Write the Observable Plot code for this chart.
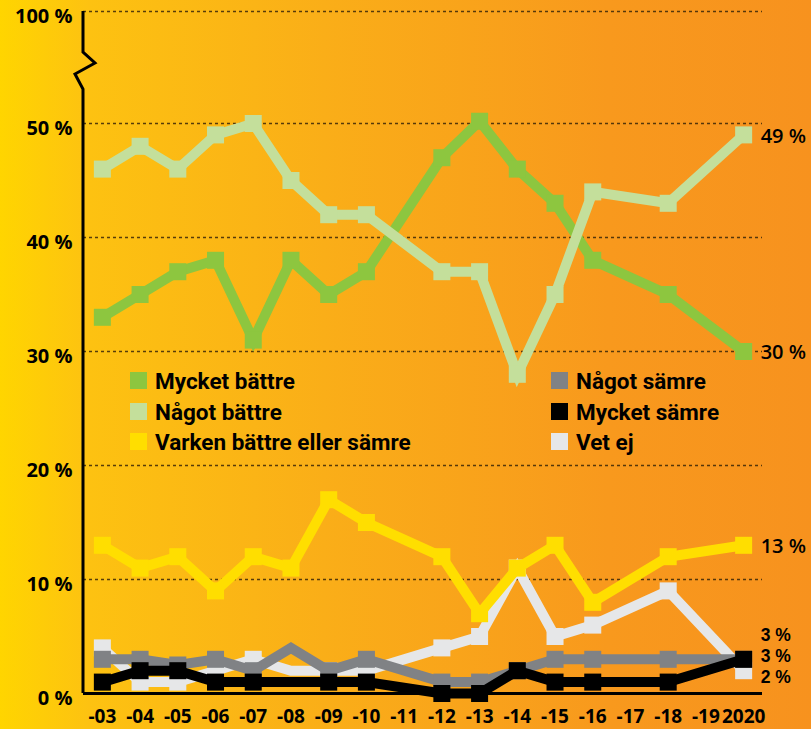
<!DOCTYPE html>
<html>
<head>
<meta charset="utf-8">
<script src="https://cdn.jsdelivr.net/npm/d3@7"></script>
<script src="https://cdn.jsdelivr.net/npm/@observablehq/plot@0.6"></script>
<style>
html, body { margin: 0; padding: 0; }
body {
  width: 811px; height: 729px; overflow: hidden;
  background: linear-gradient(to right, #ffd500 0%, #fdc211 11%, #faae18 40%, #f8991d 75%, #f7921e 100%);
}
#chart { position: relative; width: 811px; height: 729px; }
#chart svg { display: block; }
.legend { position: absolute; left: 0; top: 0; font-family: Roboto, "Open Sans", sans-serif; font-weight: 700; font-size: 22.5px; color: #000; }
.legend .item { position: absolute; white-space: nowrap; height: 30px; line-height: 30px; }
.legend .sw { position: absolute; left: 0; top: 6px; width: 17px; height: 17px; }
.legend .lb { position: absolute; left: 25px; top: 0; }
</style>
</head>
<body>
<div id="chart"></div>
<script>
// ---- data ----
const years = [2003, 2004, 2005, 2006, 2007, 2008, 2009, 2010, 2012, 2013, 2014, 2015, 2016, 2018, 2020];
const mycketBattre = [33, 35, 37, 38, 31, 38, 35, 37, 47, 51, 46, 43, 38, 35, 30];
const nagotBattre  = [46, 48, 46, 49, 50, 45, 42, 42, 37, 37, 28, 35, 44, 43, 49];
const varken       = [13, 11, 12, 9, 12, 11, 17, 15, 12, 7, 11, 13, 8, 12, 13];
const nagotSamre   = [3, 3, 2.5, 3, 2, 4, 2, 3, 1, 1, 2, 3, 3, 3, 3];
const mycketSamre  = [1, 2, 2, 1, 1, 1, 1, 1, 0, 0, 2, 1, 1, 1, 3];
const vetEj        = [4, 1, 1, 2, 3, 2, 2, 2, 4, 5, 11, 5, 6, 9, 2];
const seriesNames  = ["Mycket bättre", "Något bättre", "Varken bättre eller sämre", "Något sämre", "Mycket sämre", "Vet ej"];
const xTicks = [2003, 2004, 2005, 2006, 2007, 2008, 2009, 2010, 2011, 2012, 2013, 2014, 2015, 2016, 2017, 2018, 2019, 2020];
const xTickLabels = ["-03", "-04", "-05", "-06", "-07", "-08", "-09", "-10", "-11", "-12", "-13", "-14", "-15", "-16", "-17", "-18", "-19", "2020"];
const yTicks = [0, 10, 20, 30, 40, 50, 100];
const unmarkedYears = {"Något sämre": [2008], "Mycket sämre": [2008], "Vet ej": [2008]};

// ---- styling ----
const colors = {
  "Mycket bättre": "#8dc63f",
  "Något bättre": "#c4df9b",
  "Varken bättre eller sämre": "#ffde00",
  "Något sämre": "#808285",
  "Mycket sämre": "#000000",
  "Vet ej": "#e6e7e8"
};
const endLabelDy = {
  "Mycket bättre": 1, "Något bättre": 2, "Varken bättre eller sämre": 1,
  "Något sämre": -24, "Mycket sämre": -3, "Vet ej": 7
};
const endLabelSize = {
  "Mycket bättre": 20, "Något bättre": 20, "Varken bättre eller sämre": 20,
  "Något sämre": 17.5, "Mycket sämre": 17.5, "Vet ej": 17.5
};
const endLabelFont = {
  "Mycket bättre": "'Open Sans', sans-serif", "Något bättre": "'Open Sans', sans-serif", "Varken bättre eller sämre": "'Open Sans', sans-serif",
  "Något sämre": "'Liberation Sans', Arial, sans-serif", "Mycket sämre": "'Liberation Sans', Arial, sans-serif", "Vet ej": "'Liberation Sans', Arial, sans-serif"
};
const valuesByName = {
  "Mycket bättre": mycketBattre, "Något bättre": nagotBattre, "Varken bättre eller sämre": varken,
  "Något sämre": nagotSamre, "Mycket sämre": mycketSamre, "Vet ej": vetEj
};
// drawing order (bottom to top)
const drawOrder = ["Vet ej", "Något sämre", "Mycket sämre", "Varken bättre eller sämre", "Mycket bättre", "Något bättre"];

const rows = seriesNames.flatMap(name => years.map((year, i) => ({series: name, year, value: valuesByName[name][i]})));

const seriesMarks = drawOrder.flatMap(name => {
  const d = rows.filter(r => r.series === name);
  const skip = unmarkedYears[name] || [];
  return [
    Plot.line(d, {x: "year", y: "value", stroke: colors[name], strokeWidth: 10, strokeLinejoin: "miter", strokeMiterlimit: 4}),
    Plot.dot(d.filter(r => !skip.includes(r.year)), {x: "year", y: "value", symbol: "square", r: 9.6, fill: colors[name]})
  ];
});

const lastRows = seriesNames.map(name => rows.filter(r => r.series === name).at(-1));

const plot = Plot.plot({
  width: 811,
  height: 729,
  marginLeft: 83,
  marginRight: 49,
  marginTop: 11,
  marginBottom: 36,
  style: {background: "transparent", fontFamily: "'Open Sans', sans-serif", overflow: "visible"},
  x: {type: "linear", domain: [2002.5, 2020.5], range: [83, 762], label: null},
  y: {type: "linear", domain: [0, 50, 100], range: [693, 123, 11], label: null},
  marks: [
    Plot.ruleY(yTicks.filter(v => v > 0), {stroke: "#3a2608", strokeWidth: 1.3, strokeDasharray: "3,3", strokeOpacity: 0.85}),
    Plot.ruleY([0], {stroke: "#000", strokeWidth: 3}),
    ...seriesMarks,
    Plot.axisY({ticks: yTicks, tickSize: 0, tickPadding: 11, tickFormat: d => d + " %", fontSize: 20, fontWeight: 700, dy: 5, fill: "#000", label: null}),
    Plot.axisX({ticks: xTicks, tickSize: 0, tickPadding: 16, tickFormat: d => xTickLabels[xTicks.indexOf(d)], fontSize: 19, fontWeight: 700, fill: "#000", label: null}),
    Plot.text(lastRows, {x: "year", y: "value", text: d => d.value + " %", dx: 17, textAnchor: "start", fontSize: 20, fontWeight: 600, fill: "#000"})
  ]
});

document.getElementById("chart").appendChild(plot);

const svg = d3.select(plot);
const sx = plot.scale("x"), sy = plot.scale("y");

// per-series vertical nudges, sizes and fonts for the end labels
svg.selectAll("g[aria-label='text'] text").each(function(_, i) {
  const name = seriesNames[i];
  const t = d3.select(this);
  const cur = t.attr("transform") || "";
  t.attr("transform", cur + ` translate(0,${endLabelDy[name]})`)
   .attr("font-size", endLabelSize[name])
   .attr("font-family", endLabelFont[name]);
});

// y axis line with a break
const x0 = sx.apply(2002.5);
const yTop = sy.apply(100), yBottom = sy.apply(0);
const axisPath = d3.path();
axisPath.moveTo(x0, yBottom);
axisPath.lineTo(x0, yTop + 78);
axisPath.lineTo(x0 - 8, yTop + 63);
axisPath.lineTo(x0 + 12, yTop + 52);
axisPath.lineTo(x0, yTop + 41);
axisPath.lineTo(x0, yTop);
svg.append("path").attr("d", axisPath.toString()).attr("fill", "none").attr("stroke", "#000").attr("stroke-width", 3).attr("stroke-linejoin", "miter");

// legend
const legend = d3.select("#chart").append("div").attr("class", "legend");
const legendPos = [[130, 366], [130, 397], [130, 427], [551, 366], [551, 397], [551, 427]];
seriesNames.forEach((name, i) => {
  const it = legend.append("div").attr("class", "item").style("left", legendPos[i][0] + "px").style("top", legendPos[i][1] + "px");
  it.append("div").attr("class", "sw").style("background", colors[name]);
  it.append("div").attr("class", "lb").text(name);
});
</script>
</body>
</html>
